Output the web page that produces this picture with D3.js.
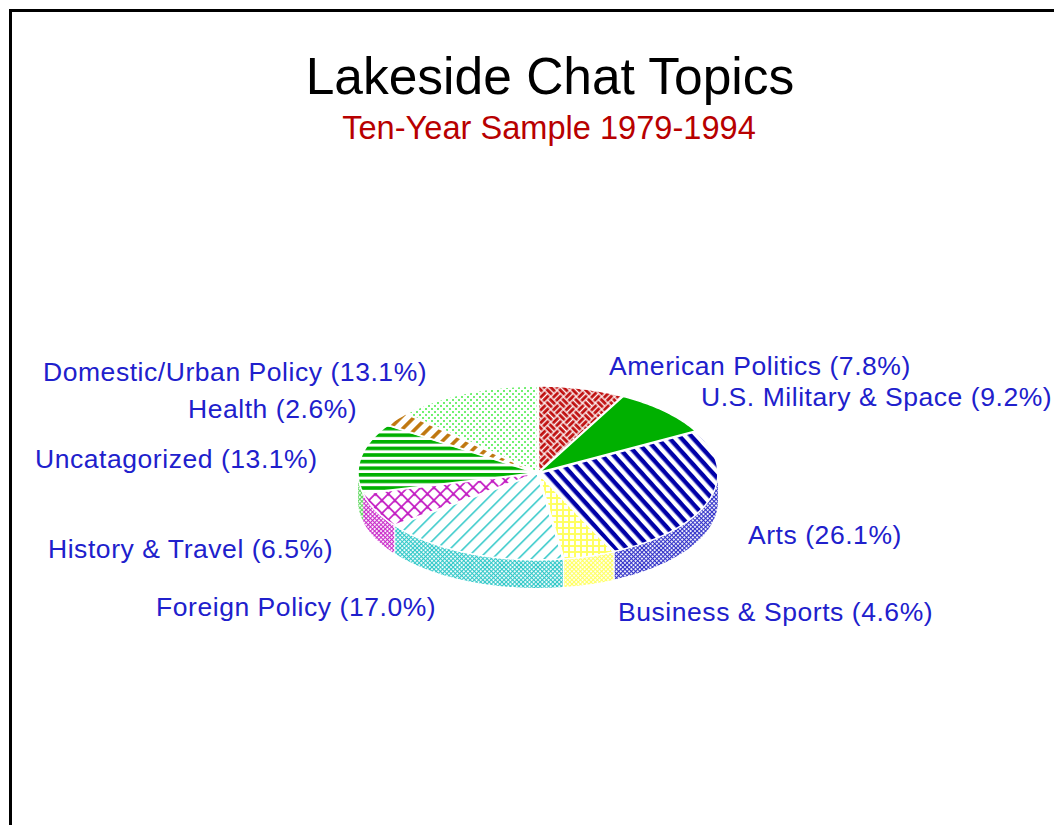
<!DOCTYPE html>
<html lang="en">
<head>
  <meta charset="UTF-8">
  <title>Lakeside Chat Topics</title>
  <script src="https://d3js.org/d3.v7.min.js"></script>
  <style>
    body, html {
      margin: 0;
      padding: 0;
      background: white;
    }
    svg {
      display: block;
    }
    text {
      font-family: "Liberation Sans", Arial, sans-serif;
    }
    .title {
      font-size: 51.5px;
      fill: black;
      text-anchor: middle;
    }
    .subtitle {
      font-size: 32.6px;
      fill: #b80000;
      text-anchor: middle;
    }
    .slice-label {
      font-size: 26.5px;
      letter-spacing: 0.55px;
      fill: #2020cc;
    }
  </style>
</head>
<body>
  <svg id="chart" width="1054" height="825"></svg>

  <script>
    // Data
    const topics = [
      "American Politics", "U.S. Military & Space", "Arts", "Business & Sports",
      "Foreign Policy", "History & Travel", "Uncatagorized", "Health", "Domestic/Urban Policy"
    ];
    const shares = [7.8, 9.2, 26.1, 4.6, 17.0, 6.5, 13.1, 2.6, 13.1];

    // Layout
    const width = 1054;
    const height = 825;
    const cx = 538, cy = 473;
    const rx = 178, ry = 86;
    const depth = 28;
    const gap = 2;
    const labelAt = [
      [609, 375], [701, 406], [748, 544], [618, 621],
      [156, 616], [48, 558], [35, 468], [188, 418], [43, 381]
    ];

    const svg = d3.select("#chart");
    const defs = svg.append("defs");

    function tile(id, size, draw, rotate) {
      const p = defs.append("pattern")
        .attr("id", id)
        .attr("patternUnits", "userSpaceOnUse")
        .attr("width", size)
        .attr("height", size);
      if (rotate) p.attr("patternTransform", `rotate(${rotate})`);
      p.append("rect").attr("width", size).attr("height", size).attr("fill", "white");
      draw(p);
    }

    function bar(p, x, y, w, h, color) {
      p.append("rect").attr("x", x).attr("y", y).attr("width", w).attr("height", h).attr("fill", color);
    }

    // top faces
    tile("top0", 18, p => {
      const c = "#c01010";
      bar(p, 0.5, 0.8, 8, 3, c); bar(p, 0.5, 5.2, 8, 3, c);
      bar(p, 9.8, 0.5, 3, 8, c); bar(p, 14.2, 0.5, 3, 8, c);
      bar(p, 9.5, 9.8, 8, 3, c); bar(p, 9.5, 14.2, 8, 3, c);
      bar(p, 0.8, 9.5, 3, 8, c); bar(p, 5.2, 9.5, 3, 8, c);
    }, 45);
    tile("top1", 4, p => bar(p, 0, 0, 4, 4, "#00b000"));
    tile("top2", 8.8, p => bar(p, 0, 0, 8.8, 4.4, "#0000a8"), 48);
    tile("top3", 6, p => { bar(p, 0, 0, 2, 6, "#ffff60"); bar(p, 0, 0, 6, 2, "#ffff60"); });
    tile("top4", 9.2, p => bar(p, 0, 0, 9.2, 1.5, "#30c8c8"), -45);
    tile("top5", 9.2, p => { bar(p, 0, 0, 1.8, 9.2, "#c828c8"); bar(p, 0, 0, 9.2, 1.8, "#c828c8"); bar(p, -0.4, -0.4, 3, 3, "#c020c0"); }, 45);
    tile("top6", 6.6, p => bar(p, 0, 0, 6.6, 3.6, "#00b000"));
    tile("top7", 9.2, p => bar(p, 0, 0, 9.2, 3.6, "#c07810"), -45);
    tile("top8", 6, p => {
      bar(p, 1, 1, 2, 2, "#70f070");
      bar(p, 4, 4, 2, 2, "#70f070");
    });

    // side walls, same hues in a much finer hatch
    const wallColors = ["#c01010", "#00b000", "#3030c8", "#ffff60", "#30c8c8", "#c828c8", "#60d860", "#c07810", "#80f080"];
    wallColors.forEach((c, i) => tile(`wall${i}`, 3, p => { bar(p, 0, 0, 1.1, 3, c); bar(p, 0, 0, 3, 1.1, c); }, 45));

    const pie = d3.pie().sort(null).value(d => d).startAngle(0).endAngle(2 * Math.PI);
    const arcs = pie(shares);

    // ellipse point for a clockwise angle from 12 o'clock
    const xAt = a => Math.sin(a) * rx;
    const yAt = a => -Math.cos(a) * ry;
    const line = d3.line();

    function sample(a0, a1) {
      const n = Math.max(2, Math.ceil((a1 - a0) * 60));
      return d3.range(n + 1).map(i => a0 + (a1 - a0) * i / n);
    }

    function shift(d) {
      const mid = (d.startAngle + d.endAngle) / 2;
      return [Math.sin(mid) * gap, -Math.cos(mid) * gap * ry / rx];
    }

    const pieG = svg.append("g").attr("transform", `translate(${cx},${cy})`);

    // walls only exist on the front half of the ellipse
    pieG.selectAll(".wall")
      .data(arcs.filter(d => d.endAngle > Math.PI / 2 && d.startAngle < 3 * Math.PI / 2))
      .join("path")
      .attr("class", "wall")
      .attr("fill", d => `url(#wall${d.index})`)
      .attr("d", d => {
        const [dx, dy] = shift(d);
        const as = sample(Math.max(d.startAngle, Math.PI / 2), Math.min(d.endAngle, 3 * Math.PI / 2));
        const upper = as.map(a => [xAt(a) + dx, yAt(a) + dy]);
        const lower = as.slice().reverse().map(a => [xAt(a) + dx, yAt(a) + dy + depth]);
        return line(upper.concat(lower)) + "Z";
      });

    pieG.selectAll(".slice")
      .data(arcs)
      .join("path")
      .attr("class", "slice")
      .attr("fill", d => `url(#top${d.index})`)
      .attr("stroke", "white")
      .attr("stroke-width", 1.5)
      .attr("d", d => {
        const [dx, dy] = shift(d);
        const rim = sample(d.startAngle, d.endAngle).map(a => [xAt(a) + dx, yAt(a) + dy]);
        return line([[dx, dy]].concat(rim)) + "Z";
      });

    svg.selectAll(".slice-label")
      .data(arcs)
      .join("text")
      .attr("class", "slice-label")
      .attr("x", d => labelAt[d.index][0])
      .attr("y", d => labelAt[d.index][1])
      .text(d => `${topics[d.index]} (${d.data.toFixed(1)}%)`);

    svg.append("text").attr("class", "title").attr("x", 550).attr("y", 94).text("Lakeside Chat Topics");
    svg.append("text").attr("class", "subtitle").attr("x", 549).attr("y", 139).text("Ten-Year Sample 1979-1994");

    // frame: only top and left edges are inside the picture
    svg.append("path")
      .attr("d", `M${width},10.5H10.5V${height}`)
      .attr("fill", "none")
      .attr("stroke", "black")
      .attr("stroke-width", 3);
  </script>
</body>
</html>
